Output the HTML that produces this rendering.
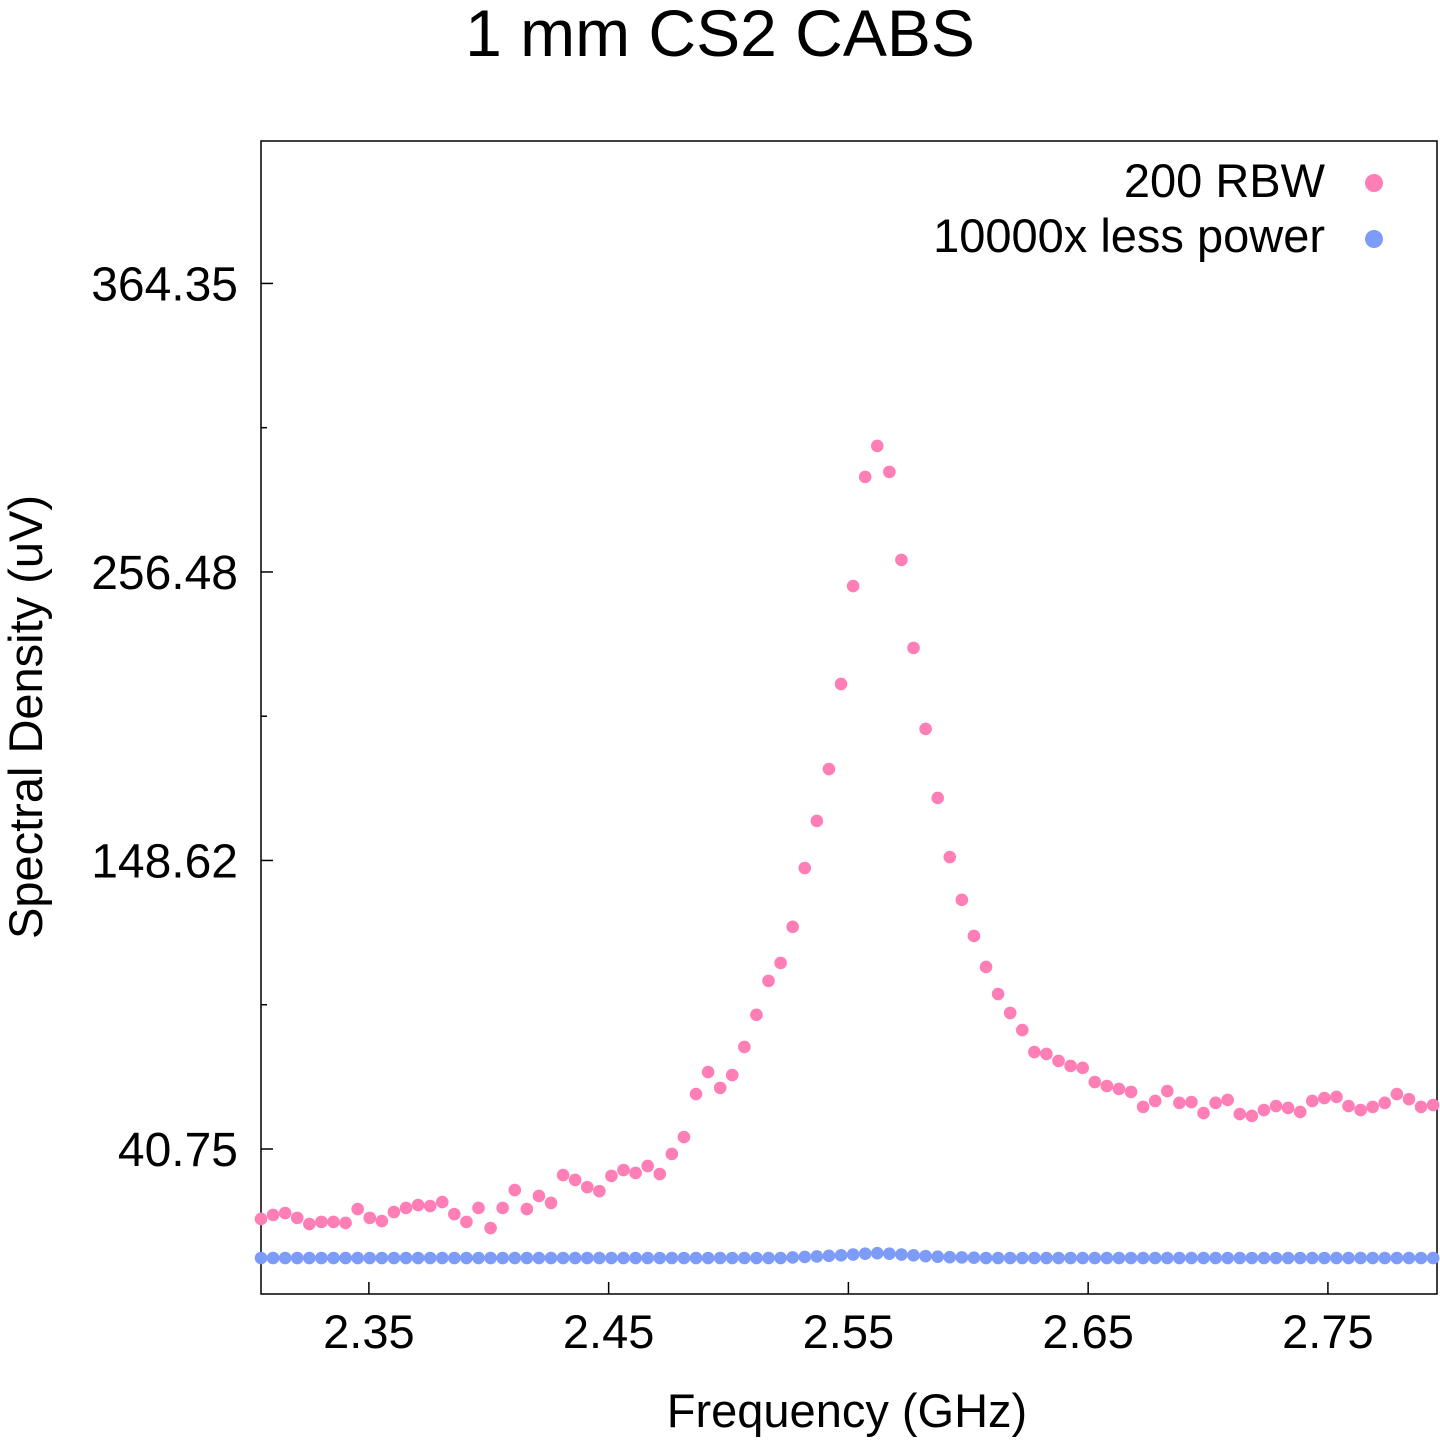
<!DOCTYPE html>
<html><head><meta charset="utf-8"><style>
html,body{margin:0;padding:0;background:#fff;}
svg{display:block;font-family:"Liberation Sans",sans-serif;}
</style></head><body>
<svg id="chart" width="1440" height="1440">
<text x="720" y="56" font-size="66" text-anchor="middle">1 mm CS2 CABS</text>
<rect x="261" y="141" width="1176" height="1153" fill="none" stroke="#000" stroke-width="1.5"/>
<g id="yticks"></g>
<g id="xticks"></g>
<text x="0" y="0" font-size="47" text-anchor="middle" transform="translate(42,717) rotate(-90)">Spectral Density (uV)</text>
<text x="847" y="1427" font-size="47" text-anchor="middle">Frequency (GHz)</text>
<g id="series-pink"></g>
<g id="series-blue"></g>
<g>
<text x="1325" y="197" font-size="47" text-anchor="end">200 RBW</text>
<circle cx="1374" cy="183" r="9" fill="#ff7eb6"/>
<text x="1325" y="252" font-size="47" text-anchor="end">10000x less power</text>
<circle cx="1374" cy="239" r="9" fill="#7c9cf8"/>
</g>
</svg>
<script>
const xStart = 2.305, xStep = 0.00504;
const pinkValues = [14.6,16.1,16.8,15.0,12.7,13.5,13.5,13.1,18.3,15.0,13.8,17.2,18.7,19.8,19.4,20.9,16.4,13.5,18.7,11.2,18.7,25.4,18.3,23.2,20.6,31.0,29.2,26.5,25.0,30.7,32.9,31.8,34.4,31.4,38.9,45.2,61.3,69.5,63.6,68.4,78.9,90.9,103.6,110.3,123.8,145.8,163.4,182.8,214.6,251.2,292.0,303.6,293.9,261.0,228.1,197.8,172.0,149.9,133.9,120.4,108.8,98.7,91.6,85.2,77.0,76.3,73.7,71.8,71.1,65.8,64.3,63.2,62.1,56.5,58.7,62.4,58.0,58.3,54.2,58.0,59.1,53.8,53.1,55.3,56.8,56.1,54.6,58.7,59.8,60.2,56.8,55.3,56.5,58.0,61.3,59.4,56.5,57.2];
const blueValues = [0,0,0,0,0,0,0,0,0,0,0,0,0,0,0,0,0,0,0,0,0,0,0,0,0,0,0,0,0,0,0,0,0,0,0,0,0,0,0,0,0,0,0,0,0.2,0.4,0.6,0.8,1.0,1.3,1.6,1.8,1.6,1.3,1.0,0.7,0.5,0.3,0.2,0.1,0,0,0,0,0,0,0,0,0,0,0,0,0,0,0,0,0,0,0,0,0,0,0,0,0,0,0,0,0,0,0,0,0,0,0,0,0,0];
const yTickValues = [40.75,148.62,256.48,364.35];
const yTickLabels = ["40.75","148.62","256.48","364.35"];
const xTickValues = [2.35,2.45,2.55,2.65,2.75];
const xTickLabels = ["2.35","2.45","2.55","2.65","2.75"];

const L=261,R=1437,T=141,B=1294;
const xMin=2.305,xMax=2.7955,yMin=-13.46,yMax=417.6;
const sx=v=>L+(v-xMin)/(xMax-xMin)*(R-L);
const sy=v=>B-(v-yMin)/(yMax-yMin)*(B-T);
const NS="http://www.w3.org/2000/svg";
function mk(tag,attrs,parent){const e=document.createElementNS(NS,tag);for(const k in attrs)e.setAttribute(k,attrs[k]);parent.appendChild(e);return e;}

const yg=document.getElementById('yticks');
yTickValues.forEach((v,i)=>{
  const y=sy(v);
  const t=mk('line',{x1:L,x2:L+12,y1:y,y2:y,stroke:'#000','stroke-width':1.5},yg);
  
  
  const lb=mk('text',{x:238,y:y+17,'font-size':48,'text-anchor':'end'},yg);
  lb.textContent=yTickLabels[i];
  
  
  if(i<yTickValues.length-1){
    const ym=sy((v+yTickValues[i+1])/2);
    const m=mk('line',{x1:L,x2:L+6,y1:ym,y2:ym,stroke:'#000','stroke-width':1.5},yg);
    
    
  }
});
const xg=document.getElementById('xticks');
xTickValues.forEach((v,i)=>{
  const x=sx(v);
  const t=mk('line',{x1:x,x2:x,y1:B,y2:B-12,stroke:'#000','stroke-width':1.5},xg);
  
  
  const lb=mk('text',{x:x,y:1348,'font-size':47,'text-anchor':'middle'},xg);
  lb.textContent=xTickLabels[i];
  
  
});
const pg=document.getElementById('series-pink');
pinkValues.forEach((v,i)=>{
  const c=mk('circle',{cx:sx(xStart+i*xStep),cy:sy(v),r:6.3,fill:'#ff7eb6'},pg);
  
  
});
const bg=document.getElementById('series-blue');
blueValues.forEach((v,i)=>{
  const c=mk('circle',{cx:sx(xStart+i*xStep),cy:sy(v),r:6.3,fill:'#7c9cf8'},bg);
  
  
});
</script>
</body></html>
